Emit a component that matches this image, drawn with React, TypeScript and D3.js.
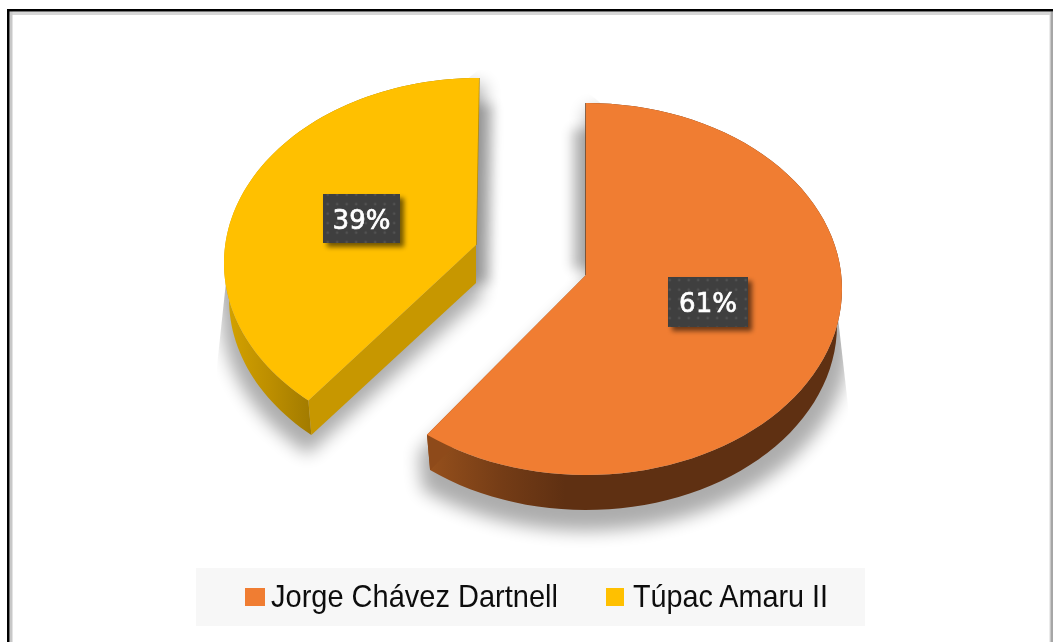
import React from "react";
import * as d3 from "d3";

const categories = ["Jorge Chávez Dartnell", "Túpac Amaru II"];
const seriesValues = [61, 39];
const labelTexts = ["61%", "39%"];
const topColors = ["#F07D32", "#FFC000"];
const cutColors = ["#8E4A1A", "#C79700"];
const edgeColors = ["#6B3A16", "#B58A00"];
const wallStops = [
  [["0", "#96501C"], ["0.55", "#743C16"], ["1", "#5F3012"]],
  [["0", "#D4A200"], ["0.5", "#BC8E00"], ["1", "#9F7900"]],
];

const geometry = [
  { cx: 586, cy: 289, rx: 256, ry: 186, ax: 586, ay: 275, bcx: 586, bcy: 325, brx: 251, bry: 185, nudge: -1.2, lx: 708, ly: 302, bw: 80, bh: 50, wx: [428, 565], sdx: 0, gapDy: [26, -6], clip: "530,90 586,90 838,318 852,440 852,570 395,570 395,400" },
  { cx: 479, cy: 263, rx: 255, ry: 185, ax: 476, ay: 245, bcx: 478, bcy: 299, brx: 249, bry: 183, nudge: 2.4, lx: 361.5, ly: 218.5, bw: 77, bh: 49, wx: [226, 315], sdx: 5, gapDy: [26, 38], clip: "478,70 530,70 530,500 216,500 216,375 226,282" },
];

const pie = d3.pie<number>().sort(null).startAngle(0).endAngle(2 * Math.PI);
const arcs = pie(seriesValues);

type P = [number, number];
const pts = (cx: number, cy: number, rx: number, ry: number, a0: number, a1: number): P[] =>
  d3.range(0, 81).map((i) => {
    const t = a0 + ((a1 - a0) * i) / 80;
    return [cx + rx * Math.sin(t), cy - ry * Math.cos(t)] as P;
  });
const line = d3.line<P>();

export default function App() {
  const slices = arcs.map((a, i) => {
    const g = geometry[i];
    const nudge = (g.nudge * Math.PI) / 180;
    const a0 = a.startAngle + (i === 1 ? nudge : 0);
    const a1 = a.endAngle + (i === 0 ? nudge : 0);
    const top = pts(g.cx, g.cy, g.rx, g.ry, a0, a1);
    const bottom = pts(g.bcx, g.bcy, g.brx, g.bry, a0, a1);
    const apex: P = [g.ax, g.ay];
    const apexB: P = [g.ax, g.ay + 38];
    const face = line([apex, ...top])! + "Z";
    const wall = line([...top, ...bottom.slice().reverse()])! + "Z";
    const cutEnd = i === 0 ? 80 : 0;
    const cut = line([apex, top[cutEnd], bottom[cutEnd], apexB])! + "Z";
    const edgeEnd = i === 0 ? top[0] : top[80];
    const edge = line([apex, edgeEnd])!;
    const gap = line([
      [apex[0], apex[1] + g.gapDy[1]],
      [edgeEnd[0], edgeEnd[1] + g.gapDy[0]],
    ])!;
    const base = line([apexB, ...bottom])! + "Z";
    return { face, wall, cut, edge, gap, base, g, i };
  });

  return (
    <svg width={1053} height={642} style={{ position: "absolute", left: 0, top: 0 }}>
      <defs>
        <filter id="sh" x="-20%" y="-20%" width="140%" height="140%">
          <feGaussianBlur stdDeviation="8" />
        </filter>
        <filter id="gapBlur" filterUnits="userSpaceOnUse" x={0} y={0} width={1053} height={642}>
          <feGaussianBlur stdDeviation="6" />
        </filter>
        <filter id="lbl" x="-30%" y="-30%" width="170%" height="170%">
          <feGaussianBlur stdDeviation="2.5" />
        </filter>
        <filter id="soft">
          <feGaussianBlur stdDeviation="0.45" />
        </filter>
        <pattern id="dots" width="9.5" height="9.5" patternUnits="userSpaceOnUse">
          <rect width="9.5" height="9.5" fill="#3F3F3F" />
          <circle cx="4.7" cy="4.7" r="1.3" fill="#525252" />
        </pattern>
        {slices.map((s) => (
          <clipPath key={s.i} id={`shc${s.i}`}>
            <polygon points={s.g.clip} />
          </clipPath>
        ))}
        {wallStops.map((stops, i) => (
          <linearGradient
            key={i}
            id={`wall${i}`}
            gradientUnits="userSpaceOnUse"
            x1={geometry[i].wx[0]}
            x2={geometry[i].wx[1]}
            y1={0}
            y2={0}
          >
            {stops.map((s) => (
              <stop key={s[0]} offset={s[0]} stopColor={s[1]} />
            ))}
          </linearGradient>
        ))}
      </defs>
      <rect width={1053} height={642} fill="#fff" />
      <rect x={9.5} y={11.5} width={1040.5} height={3.5} fill="#d6d6d6" />
      <rect x={9.5} y={11.5} width={3} height={631} fill="#c8c8c8" />
      <rect x={1049.5} y={11.5} width={1} height={631} fill="#d8d8d8" />
      <rect x={1050.5} y={11.5} width={2.5} height={631} fill="#a6a6a6" />
      <rect x={7} y={9} width={1046} height={2.5} fill="#000" />
      <rect x={7} y={9} width={2.5} height={633} fill="#000" />

      {slices.map((s) => (
        <g key={s.i} clipPath={`url(#shc${s.i})`}>
          <g
            opacity={0.32}
            filter="url(#sh)"
            transform={`translate(${s.g.cx + s.g.sdx} ${s.g.cy + 44}) scale(1.05 1.035) translate(${-s.g.cx} ${-s.g.cy - 30})`}
          >
            <path d={s.face} fill="#000" />
            <path d={s.base} fill="#000" />
            <path d={s.wall} fill="#000" />
            <path d={s.cut} fill="#000" />
          </g>
          <g filter="url(#gapBlur)" opacity={0.23}>
            <path d={s.gap} fill="none" stroke="#000" strokeWidth={28} />
          </g>
        </g>
      ))}

      {slices.map((s) => (
        <g key={s.i}>
          <path d={s.wall} fill={`url(#wall${s.i})`} />
          <path d={s.cut} fill={cutColors[s.i]} />
          <path d={s.edge} fill="none" stroke={edgeColors[s.i]} strokeWidth={1.5} />
          <path d={s.face} fill={topColors[s.i]} />
        </g>
      ))}

      {slices.map((s) => (
        <g key={s.i}>
          <rect
            x={s.g.lx - s.g.bw / 2 + 4}
            y={s.g.ly - s.g.bh / 2 + 4}
            width={s.g.bw}
            height={s.g.bh}
            fill="#000"
            opacity={0.55}
            filter="url(#lbl)"
          />
          <rect x={s.g.lx - s.g.bw / 2} y={s.g.ly - s.g.bh / 2} width={s.g.bw} height={s.g.bh} fill="url(#dots)" />
          <text
            x={s.g.lx}
            y={s.g.ly + 10}
            textAnchor="middle"
            fontFamily="'DejaVu Sans'"
            fontSize={26}
            stroke="#fff"
            strokeWidth={0.7}
            fill="#fff"
            filter="url(#soft)"
          >
            {labelTexts[s.i]}
          </text>
        </g>
      ))}

      <rect x={196} y={568} width={669} height={58} fill="#F7F7F7" />
      {categories.map((c, i) => (
        <g key={c} filter="url(#soft)">
          <rect x={[245, 606][i]} y={588} width={[20, 18][i]} height={18} fill={topColors[i]} />
          <text
            x={[271, 633][i]}
            y={607}
            fontFamily="'Liberation Sans'"
            fontSize={32}
            fill="#111"
            textLength={[287, 195][i]}
            lengthAdjust="spacingAndGlyphs"
          >
            {c}
          </text>
        </g>
      ))}
    </svg>
  );
}
